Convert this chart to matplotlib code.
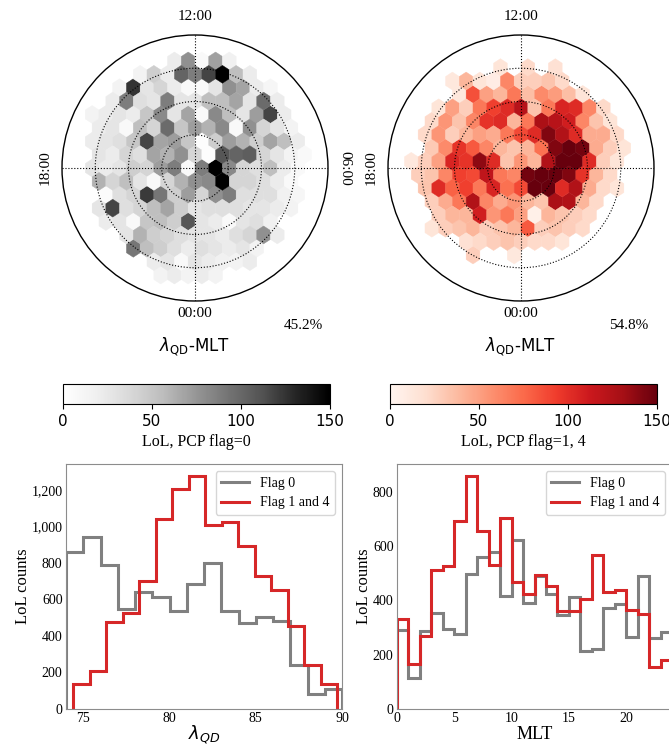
import numpy as np
import matplotlib.pyplot as plt
from matplotlib.patches import Circle
from matplotlib.ticker import StrMethodFormatter

plt.rcParams['font.family'] = 'serif'
plt.rcParams['font.serif'] = ['Liberation Serif', 'DejaVu Serif']
plt.rcParams['mathtext.fontset'] = 'dejavusans'

# LoL counts per hexagon on the lambda_QD-MLT dial, rows from the noon side
# down to the midnight side, rows alternate 16 / 17 hexagons
flag0_hex = [
    [0, 0, 0, 0, 0, 0, 22, 78, 8, 70, 18, 0, 0, 0, 0, 0],
    [0, 0, 0, 0, 15, 45, 22, 102, 88, 118, 150, 55, 22, 0, 0, 0, 0],
    [0, 0, 15, 125, 28, 40, 22, 8, 8, 28, 78, 68, 22, 12, 0, 0],
    [0, 0, 22, 88, 33, 28, 88, 28, 28, 55, 55, 68, 28, 98, 22, 0, 0],
    [15, 22, 28, 22, 50, 82, 28, 68, 8, 82, 55, 28, 72, 118, 22, 0],
    [0, 22, 28, 8, 55, 40, 98, 50, 72, 62, 82, 8, 78, 40, 28, 15, 0],
    [22, 28, 33, 50, 118, 68, 72, 50, 3, 45, 72, 62, 45, 68, 55, 22],
    [0, 28, 22, 40, 33, 68, 62, 78, 40, 3, 110, 102, 106, 40, 28, 15, 8],
    [28, 22, 28, 45, 40, 72, 88, 8, 88, 150, 82, 40, 33, 55, 22, 8],
    [0, 62, 40, 55, 28, 8, 40, 62, 78, 82, 150, 40, 40, 33, 22, 8, 0],
    [0, 5, 33, 40, 122, 92, 45, 72, 40, 78, 88, 33, 33, 33, 18, 12],
    [0, 28, 118, 33, 40, 55, 68, 45, 28, 33, 33, 33, 28, 28, 22, 15, 0],
    [0, 22, 28, 8, 50, 55, 45, 110, 28, 22, 8, 28, 33, 18, 0, 0],
    [0, 0, 0, 28, 62, 45, 40, 33, 28, 28, 22, 33, 40, 78, 22, 0, 0],
    [0, 0, 0, 92, 55, 45, 33, 22, 33, 28, 22, 28, 15, 0, 0, 0],
    [0, 0, 0, 0, 0, 22, 28, 8, 28, 22, 18, 15, 22, 0, 0, 0, 0],
    [0, 0, 0, 0, 0, 15, 22, 15, 22, 15, 0, 0, 0, 0, 0, 0],
]

flag14_hex = [
    [0, 0, 0, 0, 0, 0, 15, 0, 22, 0, 18, 0, 0, 0, 0, 0],
    [0, 0, 0, 12, 40, 15, 8, 62, 28, 28, 33, 22, 0, 0, 0, 0, 0],
    [0, 0, 0, 12, 85, 50, 40, 68, 36, 60, 52, 36, 15, 0, 0, 0],
    [0, 0, 15, 50, 28, 68, 92, 102, 122, 33, 68, 106, 102, 62, 22, 0, 0],
    [0, 22, 55, 33, 62, 98, 102, 40, 68, 128, 122, 110, 62, 33, 15, 0],
    [0, 22, 55, 28, 40, 50, 45, 68, 88, 102, 142, 125, 102, 45, 45, 22, 0],
    [0, 30, 60, 98, 82, 62, 40, 33, 40, 72, 142, 150, 146, 45, 28, 15],
    [12, 28, 50, 106, 98, 138, 102, 33, 55, 40, 125, 150, 150, 102, 28, 15, 0],
    [28, 33, 62, 92, 88, 118, 68, 62, 146, 150, 150, 142, 98, 40, 22, 0],
    [0, 33, 102, 78, 92, 68, 106, 72, 88, 150, 150, 102, 125, 45, 22, 15, 0],
    [0, 28, 45, 68, 125, 62, 45, 55, 40, 33, 128, 125, 40, 22, 0, 0],
    [0, 0, 28, 40, 40, 110, 55, 68, 50, 5, 40, 33, 28, 22, 0, 0, 0],
    [0, 15, 28, 33, 40, 28, 33, 40, 82, 28, 33, 28, 22, 0, 0, 0],
    [0, 0, 0, 0, 18, 22, 28, 33, 28, 22, 22, 15, 0, 0, 0, 0, 0],
    [0, 0, 0, 0, 28, 0, 0, 12, 0, 0, 0, 0, 0, 0, 0, 0],
]

# histograms
lat_flag0 = [857, 941, 790, 547, 640, 613, 534, 686, 799, 534, 470, 502, 483, 239, 84, 109]
lat_flag14 = [137, 210, 478, 525, 698, 1041, 1205, 1277, 1005, 1021, 890, 730, 649, 456, 239, 139]
lat_range_flag0 = (74.0, 90.0)
lat_range_flag14 = (74.41, 89.72)
mlt_flag0 = [292, 114, 289, 354, 295, 278, 498, 560, 577, 418, 624, 391,
             489, 425, 348, 412, 213, 221, 372, 387, 264, 489, 262, 283]
mlt_flag14 = [333, 167, 268, 513, 528, 694, 860, 655, 532, 704, 467, 424,
              495, 452, 360, 362, 407, 569, 430, 437, 364, 350, 154, 182]

R_MAP = 16.0      # colatitude of the dial edge (deg)
HEX_DX = 1.65     # hexagon width
HEX_DY = 1.61     # row spacing

W, H = 669, 747
fig = plt.figure(figsize=(W / 100, H / 100), dpi=100)


def px_axes(left, top, width, height):
    return fig.add_axes([left / W, 1 - (top + height) / H, width / W, height / H])


def hex_centres(rows, top):
    xs, ys, cs = [], [], []
    for i, row in enumerate(rows):
        y = top - i * HEX_DY
        half = (len(row) - 1) / 2
        for c, v in enumerate(row):
            if v > 0:
                xs.append((c - half) * HEX_DX)
                ys.append(y)
                cs.append(v)
    return np.array(xs), np.array(ys), np.array(cs)


def dial(ax, rows, top, ymin, cmap, pct):
    x, y, c = hex_centres(rows, top)
    sy = 2 * HEX_DY
    ext = (-9.5 * HEX_DX, 9.5 * HEX_DX, ymin * sy, (ymin + 10) * sy)
    hb = ax.hexbin(x, y, C=c, gridsize=(19, 10), extent=ext, reduce_C_function=np.sum,
                   cmap=cmap, vmin=0, vmax=150, linewidths=0.3, edgecolors='face', zorder=1)
    for r in (4, 8, 12):
        ax.add_patch(Circle((0, 0), r, fill=False, ls=':', lw=0.8, color='k', zorder=3))
    ax.add_patch(Circle((0, 0), R_MAP, fill=False, lw=1.0, color='k', zorder=3, clip_on=False))
    ax.plot([-R_MAP, R_MAP], [0, 0], ls=':', lw=0.8, color='k', zorder=3)
    ax.plot([0, 0], [-R_MAP, R_MAP], ls=':', lw=0.8, color='k', zorder=3)
    ax.set_xlim(-R_MAP, R_MAP)
    ax.set_ylim(-R_MAP, R_MAP)
    ax.set_aspect('equal')
    ax.axis('off')
    kw = dict(ha='center', va='center', fontsize=11)
    ax.text(0, 18.2, '12:00', **kw)
    ax.text(0, -17.45, '00:00', **kw)
    ax.text(-18.05, 0, '18:00', rotation=90, **kw)
    ax.text(18.05, 0, '06:00', rotation=-90, **kw)
    ax.text(13.0, -18.9, f'{pct:.1f}%', **kw)
    ax.text(0, -21.5, r'$\lambda_{\mathrm{QD}}$-MLT', ha='center', va='center',
            fontsize=12, family='DejaVu Sans')
    return hb


share0 = 100 * sum(lat_flag0) / (sum(lat_flag0) + sum(lat_flag14))

ax1 = px_axes(62, 35, 266, 266)
hb1 = dial(ax1, flag0_hex, 8 * HEX_DY, -5.0, 'Greys', share0)
ax2 = px_axes(388, 35, 266, 266)
hb2 = dial(ax2, flag14_hex, 7.5 * HEX_DY, -5.25, 'Reds', 100 - share0)

for hb, left, label in [(hb1, 62.5, 'LoL, PCP flag=0'), (hb2, 390, 'LoL, PCP flag=1, 4')]:
    cax = px_axes(left, 384, 267, 20)
    cb = fig.colorbar(hb, cax=cax, orientation='horizontal', ticks=[0, 50, 100, 150])
    cb.outline.set_linewidth(0.8)
    for t in cax.get_xticklabels():
        t.set_family('DejaVu Sans')
        t.set_fontsize(11)
    cb.set_label(label, fontsize=11.5, labelpad=4)

# histograms
lat_edges0 = np.linspace(*lat_range_flag0, len(lat_flag0) + 1)
lat_edges14 = np.linspace(*lat_range_flag14, len(lat_flag14) + 1)
mlt_edges = np.arange(len(mlt_flag0) + 1)

h1 = px_axes(66, 464, 276, 245)
h2 = px_axes(397, 464, 275, 245)
for ax, e0, v0, e14, v14 in [(h1, lat_edges0, lat_flag0, lat_edges14, lat_flag14),
                             (h2, mlt_edges, mlt_flag0, mlt_edges, mlt_flag14)]:
    ax.stairs(v0, e0, color='gray', lw=2.2, label='Flag 0')
    ax.stairs(v14, e14, color='tab:red', lw=2.2, label='Flag 1 and 4')
    ax.set_ylim(0, max(max(v0), max(v14)) * 1.05)
    ax.set_ylabel('LoL counts', fontsize=12, labelpad=0.5)
    ax.tick_params(labelsize=10, length=0, pad=2.5)
    for s in ax.spines.values():
        s.set_color('0.55')
    ax.legend(loc='upper right', fontsize=10)
    ax.yaxis.set_major_formatter(StrMethodFormatter('{x:,.0f}'))

h1.set_xlim(74, 90)
h1.set_xticks([75, 80, 85, 90])
h1.set_xlabel(r'$\lambda_{QD}$', fontsize=13, labelpad=-1.5)
h2.set_xlim(0, 24)
h2.set_xticks([0, 5, 10, 15, 20])
h2.set_xlabel('MLT', fontsize=13, labelpad=0.5)

fig.savefig('out.png', dpi=100)
